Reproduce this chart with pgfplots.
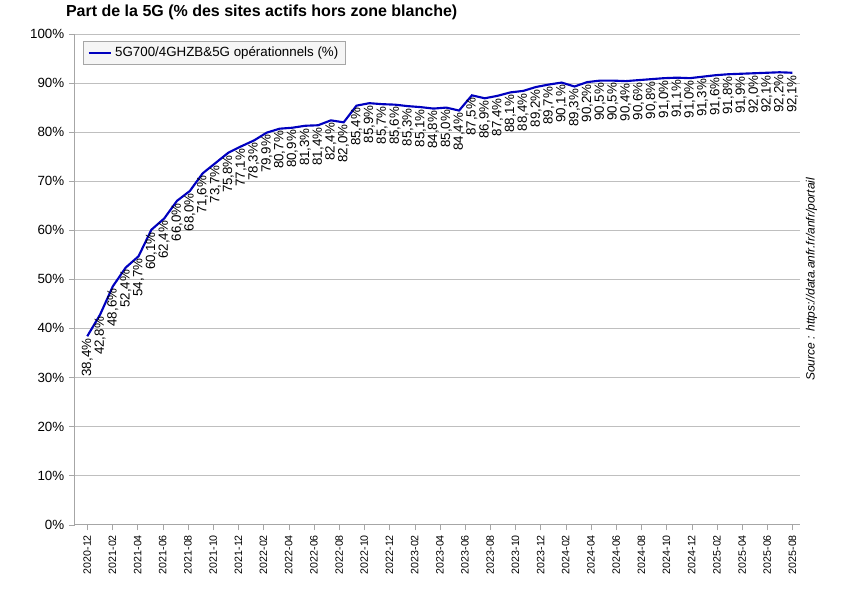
\documentclass[border=0pt]{standalone}
\usepackage{pgfplots}
\pgfplotsset{compat=1.18}
\usepackage{fontspec}
\setmainfont{Liberation Sans}
\begin{document}
\begin{tikzpicture}
\useasboundingbox (-56pt,-52pt) rectangle (574.75pt,393.5pt);
\begin{axis}[
  scale only axis, width=544pt, height=368pt,
  xmin=-1, xmax=56.6, ymin=0, ymax=100,
  ytick={0,10,...,100},
  yticklabel={\pgfmathprintnumber{\tick}\%},
  /pgf/number format/assume math mode=true,
  xtick={0,2,...,56},
  xticklabels={2020-12,2021-02,2021-04,2021-06,2021-08,2021-10,2021-12,2022-02,2022-04,2022-06,2022-08,2022-10,2022-12,2023-02,2023-04,2023-06,2023-08,2023-10,2023-12,2024-02,2024-04,2024-06,2024-08,2024-10,2024-12,2025-02,2025-04,2025-06,2025-08},
  xticklabel style={rotate=90, anchor=east, font=\footnotesize},
  yticklabel style={font=\normalsize},
  tick align=outside, tick style={gray!70},
  ymajorgrids, grid style={gray!50},
  axis line style={gray!70},
  axis x line*=bottom, axis y line*=left,
  clip=false,
  title={\textbf{Part de la 5G (\% des sites actifs hors zone blanche)}},
  title style={font=\large, anchor=south west, at={(0,1)}, xshift=-10pt, yshift=1pt},
  legend style={at={(0.012,0.985)}, anchor=north west, font=\normalsize, draw=gray!70, fill=gray!8},
  legend cell align=left,
]
\addplot[line width=1.6pt, color=blue!75!black,
  nodes near coords={\pgfmathprintnumber[use comma,fixed,fixed zerofill,precision=1]{\pgfplotspointmeta}\%},
  every node near coord/.append style={rotate=90, anchor=east, font=\normalsize, inner sep=1pt, text=black},
  point meta=explicit] table[x expr=\coordindex*56/55, y=y, meta=y] {
y
38.4
42.8
48.6
52.4
54.7
60.1
62.4
66.0
68.0
71.6
73.7
75.8
77.1
78.3
79.9
80.7
80.9
81.3
81.4
82.4
82.0
85.4
85.9
85.7
85.6
85.3
85.1
84.8
85.0
84.4
87.5
86.9
87.4
88.1
88.4
89.2
89.7
90.1
89.3
90.2
90.5
90.5
90.4
90.6
90.8
91.0
91.1
91.0
91.3
91.6
91.8
91.9
92.0
92.1
92.2
92.1
};
\addlegendentry{5G700/4GHZB\&5G opérationnels (\%)}
\node[rotate=90, anchor=south, font=\small\itshape] at (rel axis cs:1.03,0.5) {Source : https://data.anfr.fr/anfr/portail};
\end{axis}
\end{tikzpicture}
\end{document}
